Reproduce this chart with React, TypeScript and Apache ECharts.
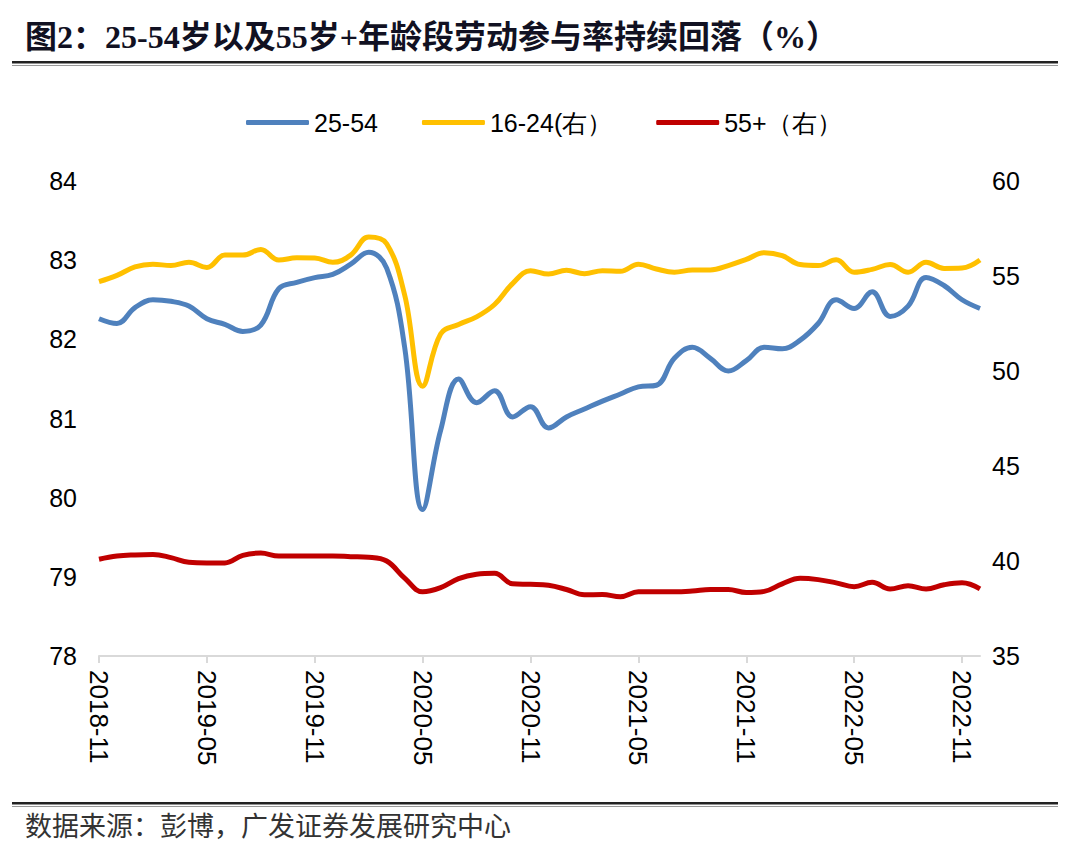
import React, { useEffect, useRef } from "react";
import * as echarts from "echarts";

const months = [
  "2018-11", "2018-12",
  "2019-01", "2019-02", "2019-03", "2019-04", "2019-05", "2019-06",
  "2019-07", "2019-08", "2019-09", "2019-10", "2019-11", "2019-12",
  "2020-01", "2020-02", "2020-03", "2020-04", "2020-05", "2020-06",
  "2020-07", "2020-08", "2020-09", "2020-10", "2020-11", "2020-12",
  "2021-01", "2021-02", "2021-03", "2021-04", "2021-05", "2021-06",
  "2021-07", "2021-08", "2021-09", "2021-10", "2021-11", "2021-12",
  "2022-01", "2022-02", "2022-03", "2022-04", "2022-05", "2022-06",
  "2022-07", "2022-08", "2022-09", "2022-10", "2022-11", "2022-12",
];

// 25-54 (left axis)
const prime = [
  82.26, 82.2, 82.4, 82.5, 82.48, 82.42, 82.26, 82.19, 82.1, 82.18,
  82.64, 82.72, 82.78, 82.82, 82.95, 83.1, 82.9, 81.9, 79.85, 80.85,
  81.5, 81.2, 81.35, 81.02, 81.15, 80.88, 81.02, 81.12, 81.22, 81.31,
  81.4, 81.42, 81.76, 81.9, 81.76, 81.6, 81.73, 81.9, 81.88, 81.99,
  82.2, 82.5, 82.39, 82.6, 82.29, 82.42, 82.78, 82.68, 82.5, 82.39,
];

// 16-24 (right axis)
const youth = [
  54.7, 55.03, 55.48, 55.62, 55.55, 55.72, 55.45, 56.1, 56.1, 56.4,
  55.84, 55.96, 55.95, 55.72, 56.1, 57.05, 56.7, 54.0, 49.2, 51.95,
  52.45, 52.85, 53.5, 54.6, 55.28, 55.1, 55.3, 55.12, 55.28, 55.25,
  55.62, 55.37, 55.2, 55.31, 55.31, 55.55, 55.87, 56.23, 56.07, 55.6,
  55.55, 55.85, 55.2, 55.35, 55.6, 55.2, 55.72, 55.4, 55.42, 55.84,
];

// 55+ (right axis)
const senior = [
  40.09, 40.26, 40.32, 40.34, 40.18, 39.93, 39.9, 39.9, 40.3, 40.42,
  40.26, 40.26, 40.26, 40.26, 40.23, 40.2, 40.0, 39.1, 38.38, 38.6,
  39.07, 39.3, 39.35, 38.8, 38.77, 38.72, 38.5, 38.22, 38.24, 38.12,
  38.38, 38.38, 38.38, 38.42, 38.5, 38.5, 38.34, 38.4, 38.8, 39.09,
  39.02, 38.85, 38.65, 38.88, 38.53, 38.7, 38.53, 38.75, 38.85, 38.53,
];

const seriesNames = ["25-54", "16-24(右）", "55+（右）"];
const seriesColors = ["#4F81BD", "#FFC000", "#C00000"];

const titleText = "图2：25-54岁以及55岁+年龄段劳动参与率持续回落（%）";
const sourceText = "数据来源：彭博，广发证券发展研究中心";

export default function App() {
  const ref = useRef<HTMLDivElement>(null);

  useEffect(() => {
    document.body.style.margin = "0";
    if (!ref.current) return;
    const chart = echarts.init(ref.current, null, { renderer: "svg" });
    const latin = "'Liberation Sans', Arial, sans-serif";
    const cjk = "'Liberation Serif', 'Noto Sans CJK SC', serif";
    chart.setOption({
      animation: false,
      backgroundColor: "#ffffff",
      grid: { left: 99, right: 100, top: 181, bottom: 196, containLabel: false },
      legend: {
        top: 105,
        left: 241,
        icon: "roundRect",
        itemWidth: 63,
        itemHeight: 5,
        itemGap: 44,
        textStyle: { fontSize: 25, color: "#000", fontFamily: latin },
        data: seriesNames,
      },
      xAxis: {
        type: "category",
        data: months,
        boundaryGap: false,
        axisLine: { show: true, lineStyle: { color: "#d9d9d9", width: 2 } },
        axisTick: { show: true, interval: 5, length: 7, lineStyle: { color: "#d9d9d9", width: 2 } },
        axisLabel: {
          interval: 5,
          rotate: -90,
          fontSize: 26,
          color: "#000",
          fontFamily: latin,
          margin: 14,
        },
        splitLine: { show: false },
      },
      yAxis: [
        {
          type: "value",
          min: 78,
          max: 84,
          interval: 1,
          axisLine: { show: false },
          axisTick: { show: false },
          splitLine: { show: false },
          axisLabel: { fontSize: 25, color: "#000", fontFamily: latin, margin: 22 },
        },
        {
          type: "value",
          position: "right",
          min: 35,
          max: 60,
          interval: 5,
          axisLine: { show: false },
          axisTick: { show: false },
          splitLine: { show: false },
          axisLabel: { fontSize: 25, color: "#000", fontFamily: latin, margin: 12 },
        },
      ],
      series: [
        {
          name: seriesNames[0],
          type: "line",
          yAxisIndex: 0,
          data: prime,
          smooth: 0.4,
          symbol: "none",
          lineStyle: { color: seriesColors[0], width: 5 },
          itemStyle: { color: seriesColors[0] },
          z: 3,
        },
        {
          name: seriesNames[1],
          type: "line",
          yAxisIndex: 1,
          data: youth,
          smooth: 0.4,
          symbol: "none",
          lineStyle: { color: seriesColors[1], width: 5 },
          itemStyle: { color: seriesColors[1] },
          z: 2,
        },
        {
          name: seriesNames[2],
          type: "line",
          yAxisIndex: 1,
          data: senior,
          smooth: 0.4,
          symbol: "none",
          lineStyle: { color: seriesColors[2], width: 5 },
          itemStyle: { color: seriesColors[2] },
          z: 2,
        },
      ],
      graphic: [
        {
          type: "text",
          left: 25,
          top: 21,
          style: {
            text: titleText,
            fontSize: 32,
            fontWeight: "bold",
            fontFamily: cjk,
            fill: "#111122",
          },
        },
        { type: "rect", shape: { x: 12, y: 61, width: 1046, height: 2.5 }, style: { fill: "#222" } },
        { type: "rect", shape: { x: 12, y: 65, width: 1046, height: 1 }, style: { fill: "#999" } },
        { type: "rect", shape: { x: 12, y: 802, width: 1046, height: 2.5 }, style: { fill: "#222" } },
        { type: "rect", shape: { x: 12, y: 806, width: 1046, height: 1 }, style: { fill: "#999" } },
        {
          type: "text",
          left: 25,
          top: 813,
          style: {
            text: sourceText,
            fontSize: 27,
            fontFamily: cjk,
            fill: "#333",
          },
        },
      ],
    });
    return () => chart.dispose();
  }, []);

  return <div ref={ref} style={{ width: 1080, height: 852 }} />;
}
